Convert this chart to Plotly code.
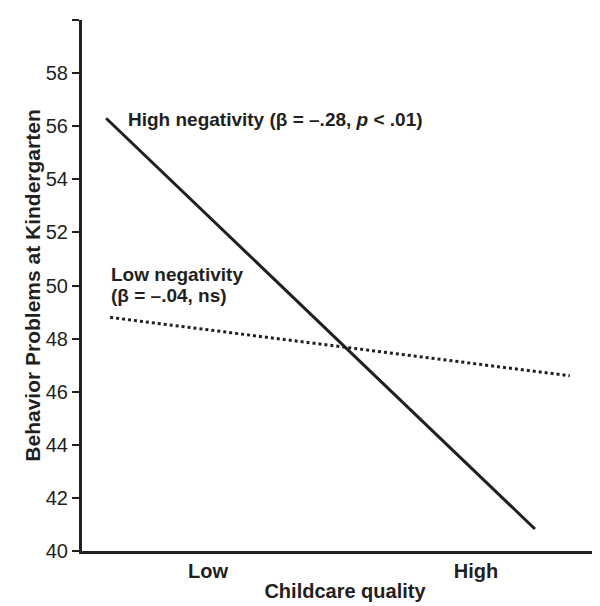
import plotly.graph_objects as go

# Data (childcare quality in SD units: Low = -1, High = +1)
quality_ticks = [-1, 1]
quality_labels = ["Low", "High"]

high_neg_x = [-1.76, 1.44]
high_neg_y = [56.3, 40.83]

low_neg_x = [-1.73, 1.70]
low_neg_y = [48.8, 46.6]

y_ticks = [40, 42, 44, 46, 48, 50, 52, 54, 56, 58, 60]
y_ticktext = ["40", "42", "44", "46", "48", "50", "52", "54", "56", "58", ""]

INK = "#231f20"
FONT = "Liberation Sans, Arial, Helvetica, sans-serif"

fig = go.Figure()
fig.add_trace(go.Scatter(x=high_neg_x, y=high_neg_y, mode="lines",
                         line=dict(color=INK, width=3), showlegend=False))
fig.add_trace(go.Scatter(x=low_neg_x, y=low_neg_y, mode="lines",
                         line=dict(color=INK, width=3, dash="dot"), showlegend=False))

fig.add_annotation(x=-1.61, y=56.27, xref="x", yref="y", xanchor="left", yanchor="middle",
                   text="<b>High negativity (β = –.28, <i>p</i> < .01)</b>", showarrow=False,
                   font=dict(family=FONT, size=19, color=INK))
fig.add_annotation(x=-1.74, y=50.42, xref="x", yref="y", xanchor="left", yanchor="middle",
                   text="<b>Low negativity</b>", showarrow=False,
                   font=dict(family=FONT, size=19, color=INK))
fig.add_annotation(x=-1.74, y=49.62, xref="x", yref="y", xanchor="left", yanchor="middle",
                   text="<b>(β = –.04, ns)</b>", showarrow=False,
                   font=dict(family=FONT, size=19, color=INK))

fig.update_layout(
    width=600, height=606,
    margin=dict(l=74, r=0, t=12, b=63),
    paper_bgcolor="white", plot_bgcolor="white",
    font=dict(family=FONT, color=INK),
    xaxis=dict(range=[-1.94, 1.985], tickvals=quality_ticks,
               ticktext=["<b>" + t + "</b>" for t in quality_labels],
               showline=True, linecolor=INK, linewidth=3, showgrid=False, zeroline=False,
               ticks="",
               tickfont=dict(family=FONT, size=20, color=INK),
               title=dict(text="<b>Childcare quality</b>", standoff=3,
                          font=dict(family=FONT, size=20, color=INK))),
    yaxis=dict(range=[40, 60], tickvals=y_ticks, ticktext=y_ticktext,
               showline=True, linecolor=INK, linewidth=3, showgrid=False, zeroline=False,
               ticks="outside", ticklen=7, tickwidth=2, tickcolor=INK,
               tickfont=dict(family=FONT, size=20, color=INK),
               title=dict(text="<b>Behavior Problems at Kindergarten</b>", standoff=0,
                          font=dict(family=FONT, size=21, color=INK))),
)

fig.write_html("out.html")
